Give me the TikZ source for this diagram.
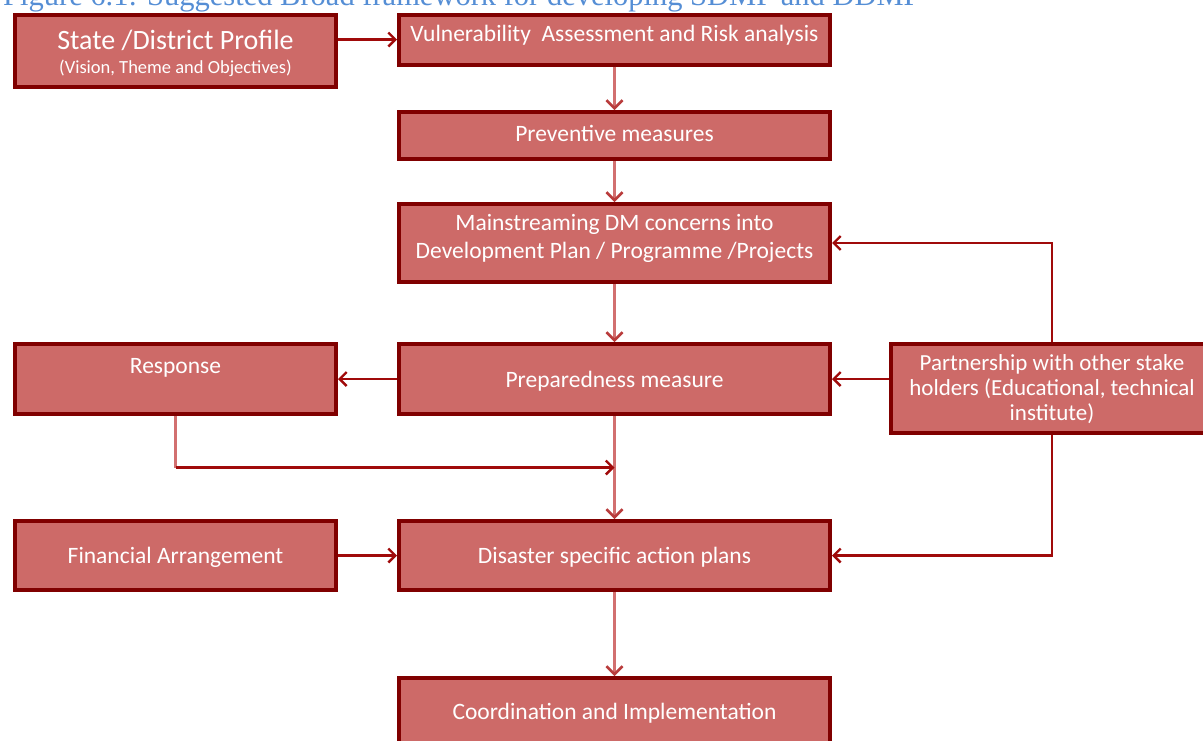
\documentclass[tikz,border=0pt]{standalone}
\usepackage{fontspec}
\setmainfont{Carlito}
\newfontfamily\capfont{Liberation Serif}
\usetikzlibrary{arrows.meta,calc}

\definecolor{boxfill}{RGB}{205,106,104}
\definecolor{boxline}{RGB}{128,0,0}
\definecolor{linkdark}{RGB}{160,10,10}
\definecolor{linklight}{RGB}{210,112,112}
\definecolor{tiplight}{RGB}{185,60,60}
\definecolor{captionblue}{RGB}{85,142,213}

\begin{document}
\begin{tikzpicture}[x=1pt,y=-1pt,
  stage/.style={draw=boxline,fill=boxfill,line width=4pt,inner sep=0pt,rectangle},
  boxtext/.style={text=white,inner sep=0pt,align=center,
    font=\fontsize{23.5}{28}\selectfont},
  hlink/.style={draw=linkdark,line width=2.8pt,
    -{Straight Barb[length=7pt,width=14pt,line width=2.4pt]}},
  vlink/.style={draw=linklight,line width=3.5pt,
    -{Straight Barb[length=8pt,width=16pt,line width=2.6pt,color=tiplight]}},
  vplain/.style={draw=linklight,line width=3.5pt}
]
\clip (0,0) rectangle (1203,740);

% caption line above the chart
\node[anchor=base west,inner sep=0pt,text=captionblue,
  font=\capfont\fontsize{30.5}{34}\selectfont] (caption) at (3,5.5)
  {Figure 6.1: Suggested Broad framework for developing SDMP and DDMP};

% boxes
\node[stage,minimum width=321pt,minimum height=72pt] (profile) at (175.5,51) {};
\node[stage,minimum width=431pt,minimum height=50pt] (vuln) at (614.5,39.5) {};
\node[stage,minimum width=431pt,minimum height=47pt] (prev) at (614.5,135.5) {};
\node[stage,minimum width=431pt,minimum height=78pt] (mainst) at (614.5,243) {};
\node[stage,minimum width=321pt,minimum height=70pt] (resp) at (175.5,379) {};
\node[stage,minimum width=431pt,minimum height=70pt] (prep) at (614.5,379) {};
\node[stage,minimum width=322pt,minimum height=89pt] (partner) at (1052,388.5) {};
\node[stage,minimum width=321pt,minimum height=69pt] (fin) at (175.5,555.5) {};
\node[stage,minimum width=431pt,minimum height=69pt] (dis) at (614.5,555.5) {};
\node[stage,minimum width=431pt,minimum height=80pt] (coord) at (614.5,718) {};

% box texts
\node[boxtext,anchor=base] (tprofA) at (175.5,49)
  {\fontsize{28}{30}\selectfont State /District Profile};
\node[boxtext,anchor=base] (tprofB) at (175.5,73)
  {\fontsize{18.5}{20}\selectfont (Vision, Theme and Objectives)};
\node[boxtext,anchor=base] (tvuln) at (614.5,41.5)
  {Vulnerability\ \ Assessment and Risk analysis};
\node[boxtext,anchor=base] (tprev) at (614.5,141.5) {Preventive measures};
\node[boxtext] (tmain) at (614.5,238)
  {Mainstreaming DM concerns into\\Development Plan / Programme /Projects};
\node[boxtext,anchor=base] (tresp) at (175.5,373.5) {Response};
\node[boxtext,anchor=base] (tprep) at (614.5,387.5) {Preparedness measure};
\node[boxtext,font=\fontsize{23}{25}\selectfont] (tpart) at (1052,389)
  {Partnership with other stake\\holders (Educational, technical\\institute)};
\node[boxtext,anchor=base] (tfin) at (175.5,563.5) {Financial Arrangement};
\node[boxtext,anchor=base] (tdis) at (614.5,563.5) {Disaster specific action plans};
\node[boxtext,anchor=base] (tcoord) at (614.5,719.5) {Coordination and Implementation};

% main column
\draw[vlink] (vuln.south) -- (prev.north);
\draw[vlink] (prev.south) -- (mainst.north);
\draw[vlink] (mainst.south) -- (prep.north);
\draw[vlink] (prep.south) -- (dis.north);
\draw[vlink] (dis.south) -- (coord.north);

% side links
\draw[hlink] (profile.east |- vuln.west) -- (vuln.west);
\draw[hlink] (prep.west) -- (resp.east);
\draw[hlink] (partner.west |- prep.east) -- (prep.east);
\draw[hlink] (partner.north) |- (mainst.east);
\draw[hlink] (partner.south) |- (dis.east);
\draw[hlink] (fin.east) -- (dis.west);

% response feeds back into the main column
\coordinate (join) at ($(prep.south)!0.5!(dis.north)$);
\draw[vplain] (resp.south) -- (resp.south |- join);
\draw[hlink] (resp.south |- join) -- (join);
\end{tikzpicture}
\end{document}
